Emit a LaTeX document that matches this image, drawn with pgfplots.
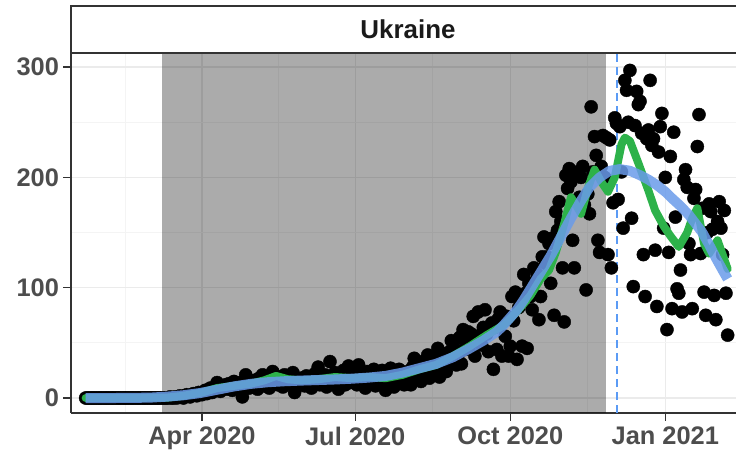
\documentclass[border=0pt]{standalone}
\usepackage{pgfplots}
\pgfplotsset{compat=1.18}
\usepackage{fontspec}
\setmainfont{Liberation Sans}
\definecolor{axisgray}{HTML}{333333}
\definecolor{ticktext}{HTML}{4D4D4D}
\definecolor{gridmaj}{HTML}{EBEBEB}
\definecolor{gridmin}{HTML}{F4F4F4}
\definecolor{smoothblue}{HTML}{6A9BEA}
\definecolor{avggreen}{HTML}{2DB24A}
\definecolor{avgred}{HTML}{F8766D}
\definecolor{vlineblue}{HTML}{5B9BF5}
\definecolor{striptext}{HTML}{1A1A1A}
\begin{document}
\begin{tikzpicture}
\begin{axis}[
  at={(0,0)}, anchor=south west,
  scale only axis, width=674bp, height=360bp,
  xmin=13.3, xmax=413.3, ymin=-13.6, ymax=312.8,
  axis lines*=left,
  axis line style={draw=axisgray, line width=1.5bp},
  xtick={91,182,274,366},
  xticklabels={Apr 2020,Jul 2020,Oct 2020,Jan 2021},
  ytick={0,100,200,300},
  yticklabels={0,100,200,300},
  minor xtick={45.5,136.5,228,320,411},
  minor ytick={50,150,250},
  grid=both,
  major grid style={draw=gridmaj, line width=1.5bp},
  minor grid style={draw=gridmin, line width=0.8bp},
  tick align=outside,
  major tick length=7.5bp,
  minor tick length=0pt,
  tick style={draw=axisgray, line width=1.4bp},
  /pgf/number format/assume math mode=true,
  ticklabel style={font=\fontsize{25.5}{30}\selectfont\bfseries, text=ticktext},
  xticklabel style={yshift=-3bp},
  yticklabel style={xshift=-1bp},
  clip=true,
  clip marker paths=true,
]
% shaded period
\addplot[draw=none, fill=black, fill opacity=0.33] coordinates {(67.3,-13.6) (330.8,-13.6) (330.8,312.8) (67.3,312.8)} -- cycle;
% dashed vertical line
\addplot[vlineblue, line width=2bp, dash pattern=on 8bp off 5bp] coordinates {(337.4,-13.6) (337.4,312.8)};
% daily points
\addplot[only marks, mark=*, mark size=6.6pt, black] coordinates {
(22,0)(23,0)(24,0)(25,0)(26,0)(27,0)(28,0)(29,0)(30,0)(31,0)(32,0)(33,0)(34,0)(35,0)(36,0)(37,0)(38,0)(39,0)(40,0)(41,0)
(42,0)(43,0)(44,0)(45,0)(46,0)(47,0)(48,0)(49,0)(50,0)(51,0)(52,0)(53,0)(54,0)(55,0)(56,0)(57,0)(58,0)(59,0)(60,0)(61,0)
(62,0)(63,0)(64,0)(65,0)(66,0)(67,0)(68,0)(69,0)(70,0)(71,0)
(72,1)(73,0)(74,0)(75,1)(76,0)(77,1)(78,2)(79,1)(80,0)(81,2)(82,3)(83,2)(84,1)(85,3)(86,4)(87,3)(88,2)(89,5)(90,4)
(91,3)(92,5)(93,7)(94,4)(95,6)(96,9)(97,5)(98,7)(99,10)(100,14)(101,8)(102,6)(103,11)(104,9)(105,12)(106,8)(107,13)(108,10)(109,7)(110,15)
(111,11)(112,9)(113,12)(114,14)(115,1)(116,13)(117,21)(118,16)(119,9)(120,12)
(121,10)(122,16)(123,13)(124,8)(125,18)(126,14)(127,21)(128,11)(129,15)(130,17)(131,9)(132,19)(133,24)(134,14)(135,20)(136,12)(137,18)(138,16)(139,10)(140,21)
(141,15)(142,17)(143,13)(144,19)(145,23)(146,5)(147,14)(148,16)(149,12)(150,18)(151,15)
(152,11)(153,20)(154,14)(155,17)(156,9)(157,19)(158,22)(159,15)(160,28)(161,12)(162,18)(163,16)(164,21)(165,10)(166,17)(167,33)(168,19)(169,13)(170,23)(171,15)
(172,8)(173,20)(174,17)(175,25)(176,12)(177,18)(178,29)(179,14)(180,22)(181,16)
(182,19)(183,12)(184,30)(185,15)(186,21)(187,18)(188,9)(189,24)(190,17)(191,20)(192,14)(193,26)(194,11)(195,19)(196,22)(197,16)(198,25)(199,13)(200,7)(201,21)
(202,18)(203,27)(204,15)(205,10)(206,23)(207,19)(208,26)(209,14)(210,22)(211,12)(212,20)
(213,24)(214,17)(215,12)(216,28)(217,36)(218,19)(219,30)(220,25)(221,15)(222,33)(223,27)(224,21)(225,39)(226,18)(227,29)(228,24)(229,38)(230,31)(231,45)(232,19)
(233,28)(234,24)(235,40)(236,24)(237,33)(238,42)(239,52)(240,37)(241,45)(242,30)(243,39)
(244,55)(245,31)(246,62)(247,44)(248,50)(249,60)(250,48)(251,58)(252,74)(253,38)(254,52)(255,78)(256,56)(257,48)(258,64)(259,80)(260,58)(261,42)(262,62)(263,68)
(264,26)(265,64)(266,44)(267,72)(268,78)(269,38)(270,70)(271,56)(272,74)(273,38)
(274,47)(275,92)(276,70)(277,96)(278,35)(279,82)(280,88)(281,47)(282,112)(283,95)(284,45)(285,104)(286,92)(287,80)(288,118)(289,106)(290,112)(291,71)(292,92)(293,128)
(294,146)(295,122)(296,128)(297,140)(298,104)(299,145)(300,75)(301,169)(302,152)(303,178)(304,160)(305,118)(306,69)(307,202)(308,190)(309,208)(310,196)(311,143)(312,118)(313,202)
(314,205)(315,182)(316,200)(317,210)(318,175)(319,98)(320,185)(321,167)(322,264)(323,205)(324,237)(325,220)(326,143)(327,132)(328,210)(329,238)(330,200)(331,236)(332,130)(333,234)
(334,118)(335,177)(336,254)(337,249)(338,180)(339,246)(340,205)(341,154)(342,288)(343,279)(344,250)(345,297)(346,163)(347,101)(348,247)(349,278)(350,266)(351,269)(352,240)(353,130)
(354,92)(355,235)(356,243)(357,288)(358,229)(359,235)(360,134)(361,83)(362,223)(363,246)(364,258)(365,154)(366,200)(367,62)(368,132)(369,219)(370,81)(371,241)(372,164)(373,99)
(374,95)(375,116)(376,78)(377,198)(378,207)(379,191)(380,140)(381,130)(382,81)(383,181)(384,189)(385,228)(386,257)(387,131)(388,172)(389,96)(390,75)(391,150)(392,176)(393,169)
(394,153)(395,93)(396,71)(397,160)(398,178)(399,154)(400,130)(401,170)(402,95)(403,57)
};
% red average (under green)
\addplot[avgred, line width=2.5bp, line join=round] coordinates {
(22,0)(70,0.3)(80,2)(91,5)(100,9)(110,11)(120,13)(128,16)(135,20)(142,17)(150,16)(160,17)(170,19)(180,18)(190,19)(200,18)(210,21)(220,26)(230,30)(240,38)
(250,47)(260,57)(270,66)(274.8,72)(280.8,82)(286.8,93)(292.8,108)(297.8,116)(301.8,132)(306.8,158)(310.8,182)(313.8,175)(316.8,167)(320.8,190)(324.8,209)(328.8,196)(332.8,187)(336.8,201)(340.8,232)(342.8,238)
(345.8,233)(350.8,213)(356.8,188)(360.8,170)(365.8,156)(369.8,147)(374.8,137)(379.8,150)(382.8,163)(385.8,172)(389.8,140)(392.8,131)(397.8,143)(400.8,130)(403,121)
};
% green average
\addplot[avggreen, line width=8bp, line join=round, line cap=round] coordinates {
(22,0)(70,0.3)(80,2)(91,5)(100,9)(110,11)(120,13)(128,16)(135,20)(142,17)(150,16)(160,17)(170,19)(180,18)(190,19)(200,18)(210,21)(220,26)(230,30)(240,38)
(250,47)(260,57)(270,66)(274,72)(280,82)(286,93)(292,108)(297,116)(301,132)(306,158)(310,182)(313,175)(316,167)(320,190)(324,207)(328,196)(332,187)(336,200)(340,230)(342,236)
(345,233)(350,213)(356,188)(360,170)(365,156)(369,147)(374,137)(379,150)(382,163)(385,172)(389,140)(392,131)(397,143)(400,130)(403,117)
};
% smooth trend
\addplot[smoothblue, opacity=0.85, line width=10bp, line join=round] coordinates {
(22,0)(40,0)(60,0.3)(70,1.2)(80,2.5)(90,4.5)(100,7.5)(110,10.5)(120,12.8)(130,14.3)(140,15.2)(150,15.8)(160,16.3)(170,16.8)(180,17.5)(190,18.5)(200,20)(210,23)(220,27)(230,31)
(240,37)(250,45)(258,52)(266,60)(270,66)(274,73)(278,80)(282,89)(286,99)(292,114)(298,129)(304,146)(310,163)(316,179)(321,191)(327,200)(333,206)(339,207.5)(345,206)(351,202)(356,198)(361,193)
(366,187)(370,181)(375,174)(380,166)(384,158)(388,150)(392,139)(396,127)(400,116)(403,108)
};
\end{axis}
% facet strip
\draw[axisgray, line width=1.5bp, fill=white] (0,360bp) rectangle (700bp,407bp);
\node[font=\fontsize{26}{30}\selectfont\bfseries, text=striptext] at (337bp,383.5bp) {Ukraine};
\pgfresetboundingbox
\useasboundingbox (-71bp,-40bp) rectangle (665bp,413bp);
\end{tikzpicture}
\end{document}
